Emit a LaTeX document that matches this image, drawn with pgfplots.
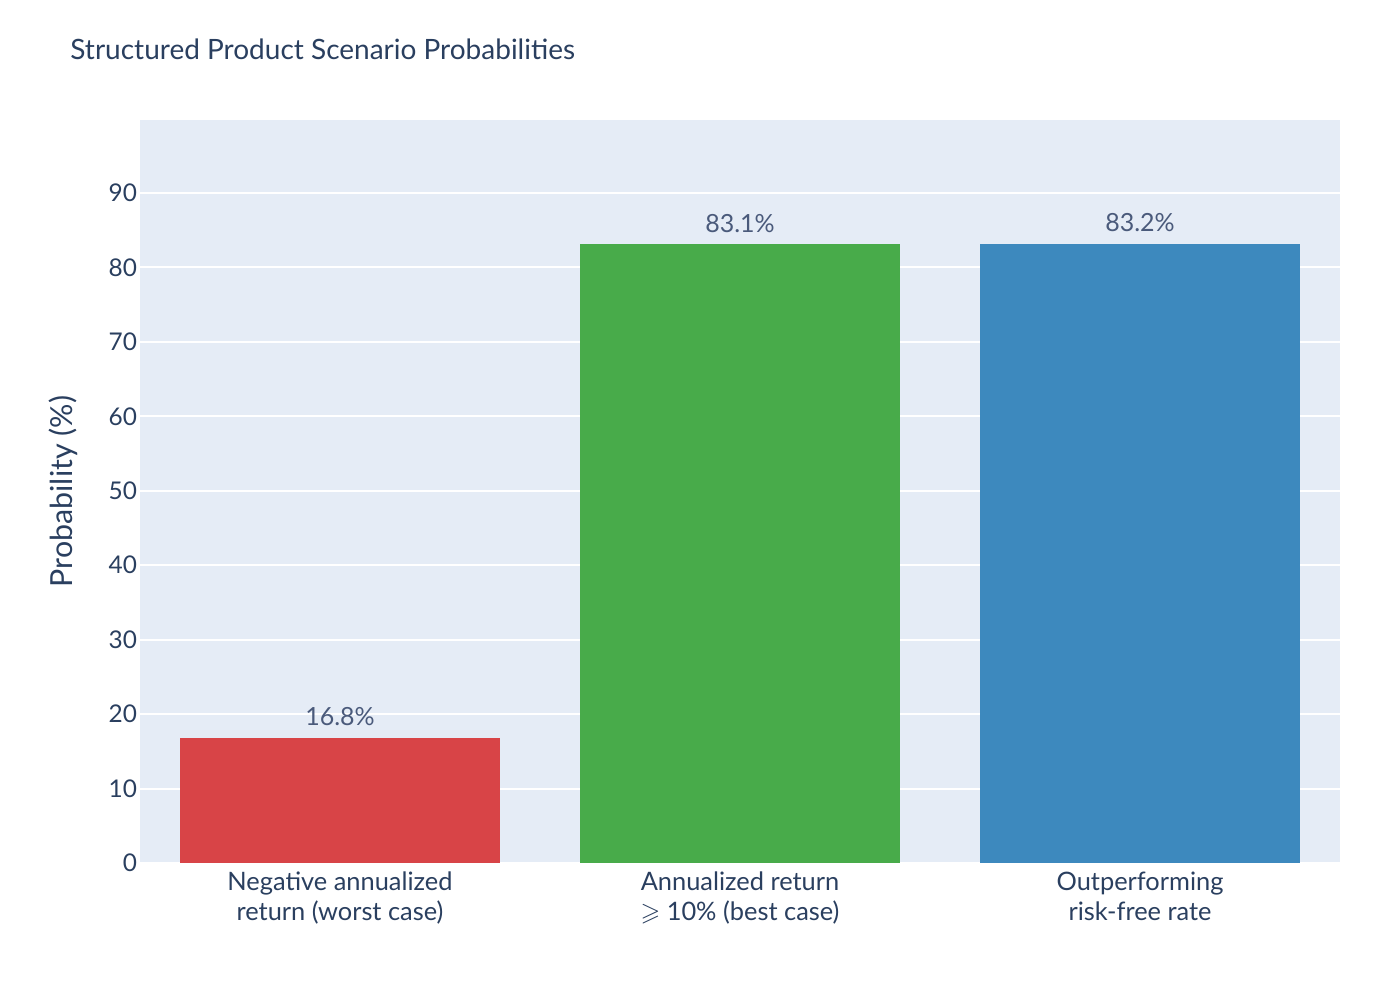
\documentclass[border=0pt]{standalone}
\usepackage{pgfplots}
\pgfplotsset{compat=1.18}
\usepackage{amssymb}
\usepackage{fontspec}
\setmainfont{Lato}
\definecolor{txt}{HTML}{2A3F5F}
\definecolor{lbl}{HTML}{4A5A7B}
\definecolor{bg}{HTML}{E5ECF6}
\definecolor{cred}{RGB}{216,68,71}
\definecolor{cgreen}{RGB}{72,171,74}
\definecolor{cblue}{RGB}{61,137,190}

\begin{document}
\begin{tikzpicture}
\path (-70pt,-68.5pt) rectangle (630pt,431.5pt);
\begin{axis}[
  at={(0,0)}, anchor=south west,
  scale only axis, width=600pt, height=371.5pt,
  xmin=-0.5, xmax=2.5, ymin=0, ymax=99.8,
  axis background/.style={fill=bg},
  axis line style={draw=none},
  major tick length=0pt,
  ytick={0,10,...,90},
  ymajorgrids, grid style={white, line width=1pt},
  xtick={0,1,2},
  xticklabels={{Negative annualized\\return (worst case)},
               {Annualized return\\$\geqslant$ 10\% (best case)},
               {Outperforming\\risk-free rate}},
  xticklabel style={align=center, text=txt, font=\fontsize{12.7}{15}\selectfont, anchor=north, yshift=-1pt},
  yticklabel style={text=txt, font=\fontsize{12.2}{14}\selectfont, xshift=2pt},
  ylabel={Probability (\%)},
  ylabel style={text=txt, font=\fontsize{15.2}{17}\selectfont, at={(axis description cs:-0.0642,0.5)}, anchor=center},
  ybar, bar width=0.8,
  nodes near coords={\pgfmathprintnumber[fixed,fixed zerofill,precision=1]{\pgfplotspointmeta}\%},
  every node near coord/.append style={font=\fontsize{12.5}{15}\selectfont, text=lbl, anchor=base, yshift=6pt},
  /pgf/number format/assume math mode=true,
]
\addplot[bar shift=0pt, fill=cred, draw=none] coordinates {(0,16.8)};
\addplot[bar shift=0pt, fill=cgreen, draw=none] coordinates {(1,83.1)};
\addplot[bar shift=0pt, fill=cblue, draw=none] coordinates {(2,83.2)};
\end{axis}
\node[anchor=base west, text=txt, font=\fontsize{14}{16}\selectfont, inner sep=0pt] at (-35pt,401.5pt) {Structured Product Scenario Probabilities};
\end{tikzpicture}
\end{document}
